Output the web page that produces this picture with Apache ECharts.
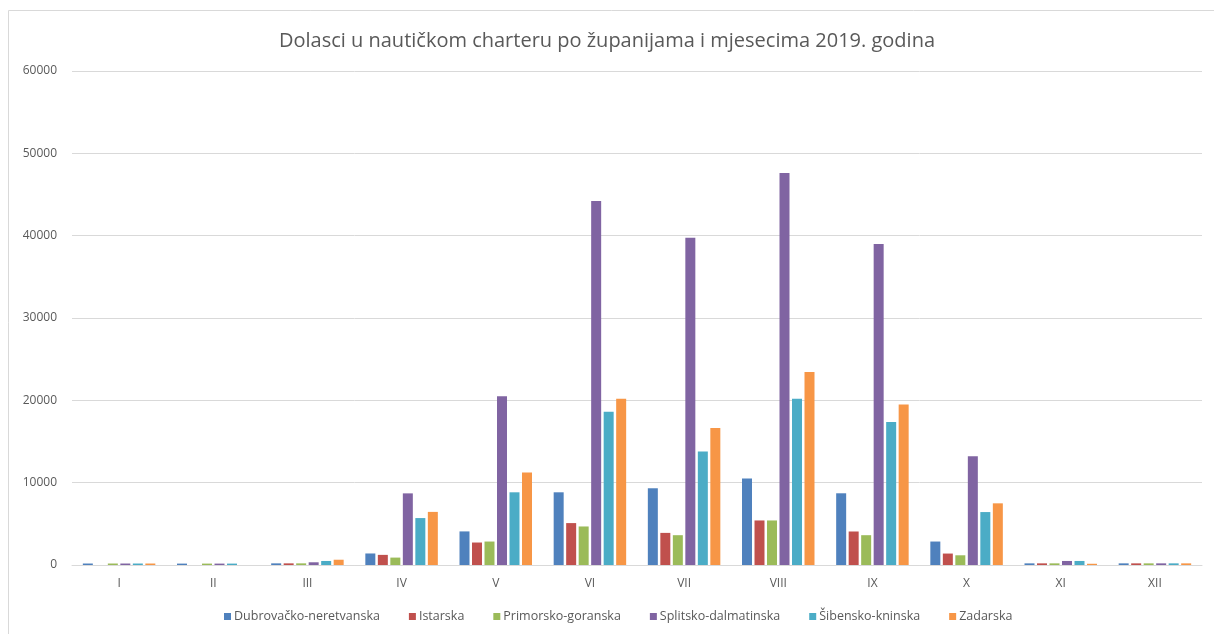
<!DOCTYPE html>
<html>
<head>
<meta charset="utf-8">
<script src="https://cdn.jsdelivr.net/npm/echarts@6/dist/echarts.min.js"></script>
<style>
html,body{margin:0;padding:0;background:#fff;}
#chart{width:1214px;height:634px;}
</style>
</head>
<body>
<div id="chart"></div>
<script>
const months = ['I','II','III','IV','V','VI','VII','VIII','IX','X','XI','XII'];
const seriesNames = ['Dubrovačko-neretvanska','Istarska','Primorsko-goranska','Splitsko-dalmatinska','Šibensko-kninska','Zadarska'];
const dubrovacko = [180, 170, 200, 1400, 4080, 8830, 9320, 10500, 8710, 2850, 200, 200];
const istarska   = [0, 0, 200, 1230, 2730, 5090, 3900, 5410, 4070, 1390, 200, 200];
const primorsko  = [180, 170, 200, 900, 2850, 4680, 3620, 5410, 3620, 1180, 200, 200];
const splitsko   = [180, 170, 330, 8700, 20500, 44200, 39740, 47620, 39000, 13220, 490, 200];
const sibensko   = [180, 170, 490, 5700, 8830, 18600, 13780, 20200, 17370, 6430, 490, 200];
const zadarska   = [180, 0, 640, 6450, 11230, 20200, 16640, 23440, 19480, 7490, 150, 200];
const yTicks = [0, 10000, 20000, 30000, 40000, 50000, 60000];
const colors = ['#4F81BD','#C0504D','#9BBB59','#8064A2','#4BACC6','#F79646'];

const allData = [dubrovacko, istarska, primorsko, splitsko, sibensko, zadarska];
const font = 'Open Sans';
const chart = echarts.init(document.getElementById('chart'), null, {renderer:'canvas'});
chart.setOption({
  animation: false,
  color: colors,
  title: {
    text: 'Dolasci u nautičkom charteru po županijama i mjesecima 2019. godina',
    left: 'center', top: 26,
    textStyle: {fontFamily: font, fontSize: 20, fontWeight: 'normal', color: '#595959'}
  },
  graphic: [{
    type: 'rect', shape: {x: 8.5, y: 10.5, width: 1230, height: 650},
    style: {fill: 'none', stroke: '#d9d9d9', lineWidth: 1}, silent: true
  }],
  grid: {left: 72, right: 12, top: 71, bottom: 69, containLabel: false},
  legend: {
    data: seriesNames, bottom: 6, left: 219,
    icon: 'rect', itemWidth: 7, itemHeight: 7, itemGap: 29,
    textStyle: {fontFamily: font, fontSize: 12.5, color: '#595959', padding: [0,0,0,-2]}
  },
  xAxis: {
    type: 'category', data: months,
    axisLine: {lineStyle: {color: '#d9d9d9', width: 1}},
    axisTick: {show: false},
    axisLabel: {fontFamily: font, fontSize: 12, color: '#595959', margin: 13}
  },
  yAxis: {
    type: 'value', min: yTicks[0], max: yTicks[yTicks.length-1], interval: 10000,
    axisLine: {show: false}, axisTick: {show: false},
    axisLabel: {fontFamily: font, fontSize: 12, color: '#595959', margin: 15, formatter: v => String(v)},
    splitLine: {lineStyle: {color: '#d9d9d9', width: 1}}
  },
  series: seriesNames.map((n, i) => ({
    name: n, type: 'bar', data: allData[i],
    barWidth: 10, barGap: '25%',
    itemStyle: {color: colors[i]}
  }))
});
</script>
</body>
</html>
